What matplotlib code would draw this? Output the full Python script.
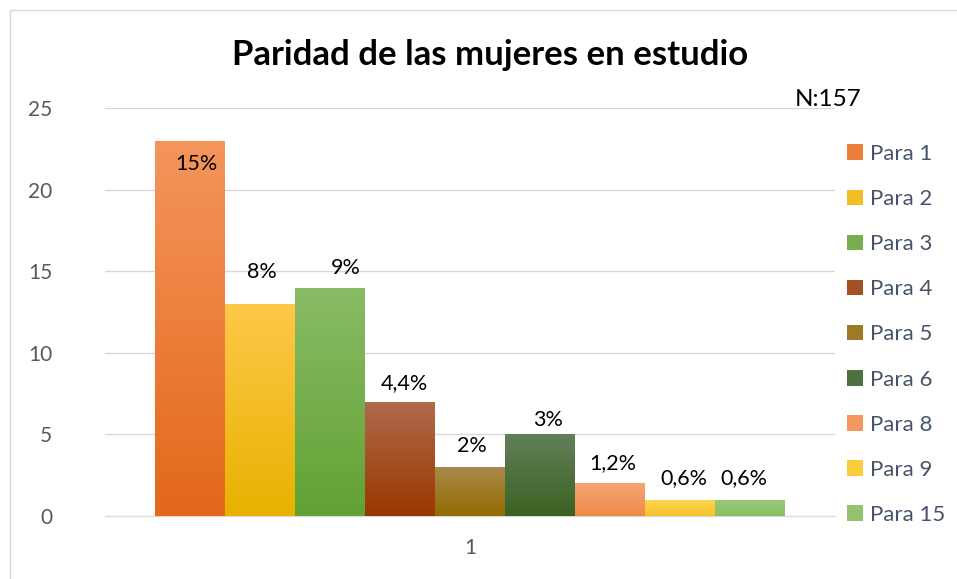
import matplotlib
matplotlib.use("Agg")
import matplotlib.pyplot as plt
import numpy as np
from matplotlib.colors import LinearSegmentedColormap, to_rgb
from matplotlib.patches import Rectangle

# ---- data ----
categories = ["1"]
series = ["Para 1", "Para 2", "Para 3", "Para 4", "Para 5", "Para 6", "Para 8", "Para 9", "Para 15"]
values = [23, 13, 14, 7, 3, 5, 2, 1, 1]
pct_labels = ["15%", "8%", "9%", "4,4%", "2%", "3%", "1,2%", "0,6%", "0,6%"]
yticks = [0, 5, 10, 15, 20, 25]

# ---- styles ----
top_colors = ["#F5955C", "#FFC84A", "#89BC66", "#B06A4C", "#A98A4C", "#62805A", "#F4A474", "#FFD650", "#98C97A"]
bot_colors = ["#E3681A", "#E8B200", "#62A234", "#983800", "#936B00", "#3A6222", "#EF8A47", "#F6C32A", "#88C064"]
label_dx = [6, 2, 16, 4, 2, 8, 3, 4, -6]       # px offsets
label_dy = [-23, 32, 20, 19, 21, 14, 20, 22, 22]  # px above bar top

plt.rcParams['font.family'] = ['Lato', 'DejaVu Sans']

fig = plt.figure(figsize=(9.57, 5.79), dpi=100)
fig.patches.append(Rectangle((10 / 957, -0.1), 1.2, 1 - 10 / 579 + 0.1, transform=fig.transFigure,
                             fill=False, edgecolor="#D9D9D9", linewidth=1))

ax = fig.add_axes([105 / 957, 1 - 516 / 579, 730 / 957, 408 / 579])
ax.set_ylim(0, 25)
n = len(values)
width = 1.0
xs = np.arange(n) * width
ax.set_xlim(xs[0] - width / 2 - 50 / 70, xs[-1] + width / 2 + 50 / 70)

for i, (x, v) in enumerate(zip(xs, values)):
    mid = tuple((np.array(to_rgb(top_colors[i])) + np.array(to_rgb(bot_colors[i]))) / 2)
    bar = ax.bar(x, v, width=width, color=mid, linewidth=0, zorder=2, label=series[i])[0]
    cmap = LinearSegmentedColormap.from_list("g%d" % i, [bot_colors[i], top_colors[i]])
    grad = np.linspace(0, 1, 256).reshape(-1, 1)
    im = ax.imshow(grad, extent=(x - width / 2, x + width / 2, 0, v), origin="lower",
                   cmap=cmap, aspect="auto", zorder=3)
    im.set_clip_path(bar)
    dx = label_dx[i] * 72 / 100
    dy = label_dy[i] * 72 / 100
    ax.annotate(pct_labels[i], (x, v), xytext=(dx, dy), textcoords="offset points",
                ha="center", va="center", fontsize=15.5, color="#000000", zorder=5)

ax.set_aspect("auto")
ax.set_yticks(yticks)
ax.set_yticklabels([str(t) for t in yticks], fontsize=15, color="#595959")
ax.set_xticks([xs.mean()])
ax.set_xticklabels(categories, fontsize=15, color="#595959")
ax.tick_params(axis="both", length=0)
ax.tick_params(axis="y", pad=38)
ax.tick_params(axis="x", pad=16)
ax.yaxis.grid(True, color="#D9D9D9", linewidth=1)
ax.set_axisbelow(True)
for s in ["top", "right", "left"]:
    ax.spines[s].set_visible(False)
ax.spines["bottom"].set_color("#D9D9D9")

fig.text(490 / 957, 1 - 55 / 579, "Paridad de las mujeres en estudio", ha="center", va="center",
         fontsize=25, fontweight="bold", color="#000000")
fig.text(828 / 957, 1 - 100 / 579, "N:157", ha="center", va="center", fontsize=17.5, color="#000000")

handles, labels = ax.get_legend_handles_labels()
leg = fig.legend(handles, labels, loc="upper left", bbox_to_anchor=(847 / 957, 1 - 144 / 579),
                 frameon=False, fontsize=16, handlelength=0.7, handleheight=0.7,
                 handletextpad=0.35, labelspacing=1.13, borderaxespad=0, borderpad=0)
for t in leg.get_texts():
    t.set_color("#44546A")

fig.savefig("out.png", dpi=100)
